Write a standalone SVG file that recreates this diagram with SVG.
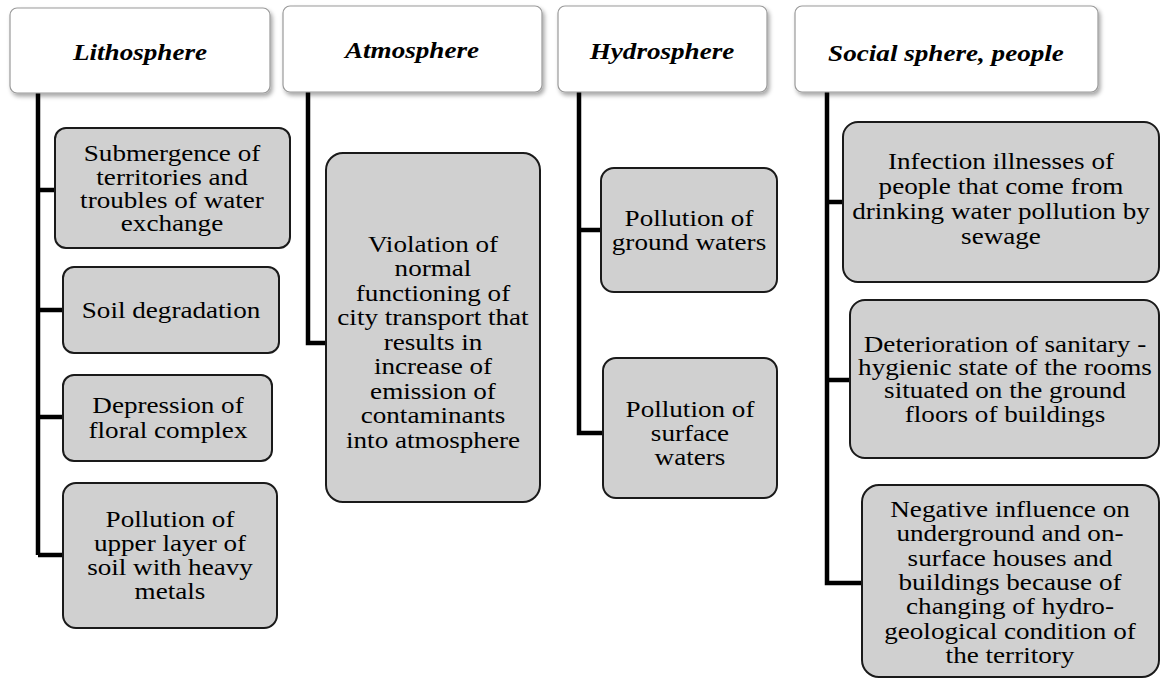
<svg xmlns="http://www.w3.org/2000/svg" width="1161" height="681" viewBox="0 0 1161 681">
<defs>
<filter id="sh" x="-10%" y="-10%" width="130%" height="140%">
<feDropShadow dx="2" dy="3" stdDeviation="2" flood-color="#000" flood-opacity="0.35"/>
</filter>
<style>
.hdr{fill:#fff;stroke:#9a9a9a;stroke-width:1.2;filter:url(#sh)}
.box{fill:#d0d0d0;stroke:#1a1a1a;stroke-width:2}
.ht{font-family:"Liberation Serif","Times New Roman",serif;font-size:23px;font-weight:bold;font-style:italic;fill:#000;text-anchor:middle}
.bt{font-family:"Liberation Serif","Times New Roman",serif;font-size:23px;fill:#000;text-anchor:middle}
.con{fill:none;stroke:#000;stroke-width:4.5;stroke-linejoin:miter}
</style>
</defs>
<rect width="1161" height="681" fill="#fff"/>
<g id="connectors">
<path class="con" d="M38 93 V555 M38 190 H55 M38 310 H63 M38 417 H63 M38 555 H63"/>
<path class="con" d="M308 92 V343 H326"/>
<path class="con" d="M579 92 V433 H603 M579 230 H601"/>
<path class="con" d="M827 92 V583 H862 M827 202 H843 M827 380 H850"/>
</g>
<g id="lithosphere">
<rect class="hdr" x="10" y="8" width="260" height="85" rx="7"/>
<text class="ht" transform="translate(140,0) scale(1.18,1)"><tspan x="0" y="60">Lithosphere</tspan></text>
</g>
<g id="atmosphere">
<rect class="hdr" x="283" y="6" width="259" height="86" rx="7"/>
<text class="ht" transform="translate(412,0) scale(1.18,1)"><tspan x="0" y="58">Atmosphere</tspan></text>
</g>
<g id="hydrosphere">
<rect class="hdr" x="558" y="6" width="209" height="86" rx="7"/>
<text class="ht" transform="translate(662,0) scale(1.18,1)"><tspan x="0" y="59">Hydrosphere</tspan></text>
</g>
<g id="social">
<rect class="hdr" x="795" y="6" width="303" height="86" rx="7"/>
<text class="ht" transform="translate(946,0) scale(1.18,1)"><tspan x="0" y="61">Social sphere, people</tspan></text>
</g>
<g id="submergence">
<rect class="box" x="55" y="128" width="235" height="120" rx="11"/>
<text class="bt" transform="translate(172,0) scale(1.18,1)"><tspan x="0" y="161">Submergence  of</tspan><tspan x="0" y="185">territories and</tspan><tspan x="0" y="208">troubles of water</tspan><tspan x="0" y="231">exchange</tspan></text>
</g>
<g id="soil">
<rect class="box" x="63" y="267" width="216" height="86" rx="11"/>
<text class="bt" transform="translate(171,0) scale(1.18,1)"><tspan x="0" y="318">Soil degradation</tspan></text>
</g>
<g id="depression">
<rect class="box" x="63" y="375" width="209" height="86" rx="11"/>
<text class="bt" transform="translate(168,0) scale(1.18,1)"><tspan x="0" y="413">Depression of</tspan><tspan x="0" y="438">floral complex</tspan></text>
</g>
<g id="upperlayer">
<rect class="box" x="63" y="483" width="214" height="145" rx="13"/>
<text class="bt" transform="translate(170,0) scale(1.18,1)"><tspan x="0" y="527">Pollution of</tspan><tspan x="0" y="551">upper layer of</tspan><tspan x="0" y="575">soil with heavy</tspan><tspan x="0" y="599">metals</tspan></text>
</g>
<g id="violation">
<rect class="box" x="326" y="153" width="214" height="349" rx="17"/>
<text class="bt" transform="translate(433,0) scale(1.18,1)"><tspan x="0" y="252">Violation of</tspan><tspan x="0" y="276.5">normal</tspan><tspan x="0" y="301">functioning of</tspan><tspan x="0" y="325.5">city transport that</tspan><tspan x="0" y="350">results in</tspan><tspan x="0" y="374.5">increase of</tspan><tspan x="0" y="399">emission of</tspan><tspan x="0" y="423.5">contaminants</tspan><tspan x="0" y="448">into atmosphere</tspan></text>
</g>
<g id="groundwaters">
<rect class="box" x="601" y="168" width="176" height="124" rx="13"/>
<text class="bt" transform="translate(689,0) scale(1.18,1)"><tspan x="0" y="226">Pollution of</tspan><tspan x="0" y="250">ground waters</tspan></text>
</g>
<g id="surfacewaters">
<rect class="box" x="603" y="358" width="174" height="140" rx="13"/>
<text class="bt" transform="translate(690,0) scale(1.18,1)"><tspan x="0" y="417">Pollution of</tspan><tspan x="0" y="441">surface</tspan><tspan x="0" y="465">waters</tspan></text>
</g>
<g id="infection">
<rect class="box" x="843" y="122" width="316" height="160" rx="15"/>
<text class="bt" transform="translate(1001,0) scale(1.18,1)"><tspan x="0" y="169">Infection illnesses of</tspan><tspan x="0" y="194">people that come from</tspan><tspan x="0" y="219">drinking water pollution by</tspan><tspan x="0" y="244">sewage</tspan></text>
</g>
<g id="deterioration">
<rect class="box" x="850" y="300" width="309" height="158" rx="15"/>
<text class="bt" transform="translate(1005,0) scale(1.18,1)"><tspan x="0" y="352">Deterioration of sanitary -</tspan><tspan x="0" y="375">hygienic state of the rooms</tspan><tspan x="0" y="398">situated on the ground</tspan><tspan x="0" y="422">floors of buildings</tspan></text>
</g>
<g id="negative">
<rect class="box" x="862" y="485" width="297" height="192" rx="17"/>
<text class="bt" transform="translate(1010,0) scale(1.18,1)"><tspan x="0" y="517">Negative influence on</tspan><tspan x="0" y="541">underground and on-</tspan><tspan x="0" y="566">surface houses and</tspan><tspan x="0" y="590">buildings because of</tspan><tspan x="0" y="614">changing of hydro-</tspan><tspan x="0" y="639">geological condition of</tspan><tspan x="0" y="663">the territory</tspan></text>
</g>
</svg>
